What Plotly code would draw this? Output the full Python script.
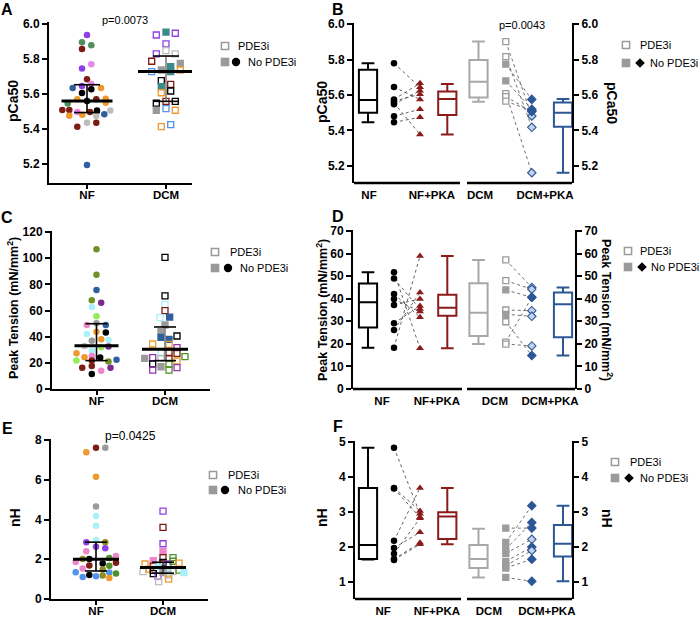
import plotly.graph_objects as go

W, H = 700, 619
FONT = "Liberation Sans, Arial, Helvetica, sans-serif"

# ======================= DATA =======================
GROUPS2 = ["NF", "DCM"]
GROUPS4 = ["NF", "NF+PKA", "DCM", "DCM+PKA"]

# ---- Panel A : pCa50 per heart (jitter read in px)
a_nf_val = [5.937, 5.895, 5.878, 5.857, 5.770, 5.745, 5.684, 5.657, 5.634, 5.646, 5.627,
            5.634, 5.606, 5.570, 5.560, 5.570, 5.573, 5.550, 5.545, 5.509, 5.509, 5.497,
            5.497, 5.505, 5.484, 5.505, 5.476, 5.482, 5.474, 5.436, 5.436, 5.413, 5.194]
a_nf_jit = [0, -5, 4.3, -5, 4.3, -5, 0, 4.3, -14.3, -5, 4.3, 14, -5, -9.7, 0, 9.3, 18.7, 18.7,
            -19.3, -24.7, -17.7, -9.7, 3, 10, 17.3, 23.3, -17.7, -4.7, 9.3, 0, 9.3, -9.7, 0]
a_nf_col = ["pur", "sgr", "sgr", "drd", "vio", "pur", "drd", "vio", "blu", "pur", "blk", "org",
            "blk", "org", "blk", "drd", "org", "org", "sgr", "drd", "drd", "vio", "drd", "blk",
            "blu", "lgr", "org", "org", "lgr", "lgr", "drd", "drd", "blu"]
a_dcm_val = [5.937, 5.954, 5.947, 5.886, 5.848, 5.829, 5.829, 5.787, 5.775, 5.728, 5.737, 5.756,
             5.728, 5.737, 5.676, 5.642, 5.655, 5.607, 5.617, 5.547, 5.558, 5.558, 5.507, 5.516,
             5.507, 5.413, 5.425]
a_dcm_jit = [-9.7, 0, 9.3, 0, 0, -9.7, 9.3, -14.3, 14.3, -14.3, -4.7, 4.7, 4.7, 14.3, -4.7, -4.7,
             4.7, -4.7, 4.7, -9.7, 0, 9.3, -9.7, 0, 9.3, -4.7, 4.7]
a_dcm_col = ["pur", "tea", "pur", "pur", "lgr", "pur", "lgr", "drd", "gry", "cbl", "gry", "tea",
             "tea", "org", "blk", "tea", "drd", "org", "blk", "blk", "drd", "blk", "gry", "cbl",
             "org", "org", "cbl"]
a_dcm_fill = [0, 1, 0, 0, 0, 0, 0, 0, 1, 0, 1, 1, 1, 0, 0, 1, 0, 0, 0, 0, 0, 0, 1, 0, 0, 0, 0]
a_stats = [(5.560, 5.494, 5.653), (5.728, 5.558, 5.817)]  # (centre, lower, upper)

# ---- Panel C : Peak tension per heart
c_nf_val = [106.8, 87.3, 75.7, 67.8, 66.0, 62.7, 55.6, 48.9, 50.2, 48.9, 43.8, 43.1, 42.0, 36.9,
            38.0, 37.4, 32.9, 29.3, 31.9, 32.5, 27.3, 24.2, 25.2, 24.0, 21.7, 21.7, 21.1, 22.4,
            16.3, 17.6, 14.0, 16.3, 11.5]
c_nf_jit = [0, 0, 0, -4.7, 4.7, -4.7, 0, -9.7, 0, 9.3, 0, 9.3, -9.7, -4.7, 4.7, 12, -12, -4.7,
            4.7, 12, -20, -12, -4.7, 3.7, -20, -4.7, 12, 20, -14.3, -4.7, 4.7, 14, -4.7]
c_nf_col = ["olv", "olv", "blu", "olv", "dpu", "lcy", "lgn", "pnk", "gry", "blu", "org", "blk",
            "lcy", "gry", "org", "lcy", "lgr", "lcy", "lgn", "dpu", "org", "org", "pnk", "blk",
            "lgn", "drd", "olv", "blu", "drd", "drd", "pnk", "dpu", "blk"]
c_dcm_val = [100.6, 71.1, 64.7, 59.9, 54.5, 55.0, 48.9, 43.8, 40.5, 39.5, 38.0, 34.4, 34.1, 31.6,
             27.3, 27.6, 27.3, 23.4, 24.0, 23.4, 23.4, 21.4, 24.7, 19.1, 17.0, 19.1, 16.3, 14.5,
             14.5]
c_dcm_jit = [0, 0, 0, 0, -5, 4.7, 0, -4, 12, -4, 4, -12.3, 4, 12, -4, 4, 12, -20.3, -12.3, -4, 4,
             12, 20, -12.3, -4, 4, 12, -12.3, 4]
c_dcm_col = ["blk", "blk", "lcy", "drd", "lcy", "blu", "gry", "gry", "blk", "blu", "blu", "org",
             "org", "mpu", "lcy", "drd", "drd", "gry", "mpu", "lgr", "drd", "org", "grn", "blk",
             "gry", "grn", "mpu", "mpu", "grn"]
c_dcm_fill = [0, 0, 0, 0, 0, 1, 1, 1, 0, 1, 1, 0, 0, 0, 0, 0, 0, 1, 0, 0, 0, 0, 0, 0, 1, 0, 0, 0, 0]
c_stats = [(33.1, 21.7, 49.9), (30.3, 21.7, 47.4)]

# ---- Panel E : nH per heart
e_nf_val = [7.38, 7.61, 7.61, 6.15, 4.65, 4.18, 3.69, 2.97, 2.85, 2.85, 2.63, 2.55, 2.40, 2.16,
            2.01, 2.01, 1.79, 2.06, 1.86, 1.69, 1.67, 1.83, 1.53, 1.49, 1.34, 1.21, 1.18, 1.28,
            1.11, 1.14, 1.33, 1.06]
e_nf_jit = [-9.7, 0, 9.3, 0, 0, 0, 0, 0, -9.7, 9.3, 0, 9.3, -9.7, 20, -13.3, -6.7, 6.7, 13.3,
            -20.3, -6.7, 13.3, 20, -13.3, 6.7, -20.3, -6.7, 6.7, 20, -13.3, 0, 13.3, 13.3]
e_nf_col = ["org", "drd", "gry", "org", "gry", "lcy", "lcy", "lcy", "pur", "gol", "pur", "pur",
            "pnk", "pnk", "gol", "blk", "blk", "grn", "pnk", "drd", "grn", "drd", "pnk", "gol",
            "cbl", "blk", "gol", "grn", "cbl", "cbl", "cbl", "org"]
e_dcm_val = [4.42, 3.60, 2.78, 2.38, 1.93, 2.08, 2.08, 1.76, 1.65, 1.84, 1.76, 1.90, 1.80, 1.38,
             1.50, 1.44, 1.60, 1.40, 1.38, 1.45, 1.33, 1.28, 1.15, 1.33, 1.22, 0.87, 1.00]
e_dcm_jit = [0, 0, 0, 0, -9.7, 0, 10, -18, -9.7, 0, 5, 10, 16, -20, -14, -9.7, -5, 5, 10, 16, 21,
             -9.7, -5, 0, 5, -4.3, 5.7]
e_dcm_col = ["pur", "drd", "pur", "pnk", "pnk", "drd", "grn", "org", "drd", "blk", "pur", "grn",
             "org", "lgr", "org", "blk", "lcy", "lcy", "lgr", "grn", "lcy", "blk", "pur", "gry",
             "lgr", "lgr", "org"]
e_dcm_fill = [0, 0, 0, 1, 1, 0, 0, 0, 0, 0, 0, 0, 0, 0, 0, 0, 1, 1, 0, 0, 1, 0, 0, 1, 0, 0, 0]
e_stats = [(2.00, 1.41, 2.86), (1.58, 1.30, 1.85)]

# ---- Panel B : pCa50 paired, +/- PKA
b_nf = [5.780, 5.645, 5.575, 5.565, 5.555, 5.548, 5.480, 5.445]
b_nf_pka = [5.643, 5.575, 5.666, 5.604, 5.377, 5.624, 5.519, 5.474]
b_dcm = [5.902, 5.817, 5.774, 5.680, 5.608, 5.590, 5.565]
b_dcm_pka = [5.481, 5.417, 5.575, 5.519, 5.160, 5.506, 5.510]
b_dcm_nopde = [0, 0, 1, 1, 0, 0, 0]
b_dcm_pka_filled = [0, 0, 1, 1, 0, 0, 1]
# box stats (lower whisker, q1, median, q3, upper whisker) for NF, NF+PKA, DCM, DCM+PKA
b_box = [(5.445, 5.500, 5.572, 5.742, 5.780), (5.377, 5.487, 5.577, 5.619, 5.662),
         (5.562, 5.585, 5.675, 5.798, 5.902), (5.160, 5.420, 5.500, 5.557, 5.577)]

# ---- Panel D : Peak tension paired
d_nf = [51.7, 48.9, 42.1, 39.9, 37.2, 29.1, 26.1, 18.3]
d_nf_pka = [18.0, 35.4, 31.8, 34.3, 39.9, 36.8, 42.7, 58.9]
d_dcm = [57.2, 48.0, 43.9, 35.0, 33.1, 29.8, 20.8, 19.9]
d_dcm_pka = [45.0, 44.2, 40.6, 34.7, 32.2, 14.8, 40.6, 19.1]
d_dcm_nopde = [0, 0, 1, 0, 1, 0, 0, 0]
d_dcm_pka_filled = [0, 0, 1, 0, 0, 1, 1, 0]
d_box = [(18.3, 27.2, 38.4, 46.7, 51.7), (18.0, 32.5, 36.0, 41.8, 58.9),
         (19.9, 23.5, 33.8, 46.8, 57.2), (14.8, 22.9, 37.5, 42.7, 45.0)]

# ---- Panel F : nH paired
f_nf = [4.84, 3.69, 3.67, 2.18, 1.97, 1.81, 1.66, 1.63]
f_nf_pka = [2.95, 3.03, 2.85, 3.69, 2.42, 2.82, 2.12, 2.08]
f_dcm = [2.54, 2.13, 1.94, 1.82, 1.59, 1.46, 1.40, 1.13]
f_dcm_pka = [2.54, 3.18, 2.70, 2.22, 2.00, 1.90, 1.65, 1.02]
f_dcm_nopde = [1, 1, 1, 1, 1, 1, 1, 1]
f_dcm_pka_filled = [1, 1, 1, 0, 1, 0, 1, 1]
f_box = [(1.64, 1.66, 2.06, 3.69, 4.84), (2.08, 2.23, 2.87, 2.99, 3.69),
         (1.13, 1.40, 1.66, 2.06, 2.52), (1.02, 1.73, 2.09, 2.63, 3.18)]

# ======================= STYLE =======================
PAL = {"pur": "#8f3fe6", "sgr": "#4e8f5e", "drd": "#7d1c12", "vio": "#ea84ee", "blu": "#2f5f9e",
       "blk": "#000000", "org": "#f0982e", "gry": "#9a9a9a", "lgr": "#bdbdbd", "tea": "#3a8a8c",
       "cbl": "#4f93ec", "olv": "#6e9226", "lcy": "#aaf0f8", "lgn": "#94ec5a", "pnk": "#ee86cc",
       "dpu": "#7d2a8e", "mpu": "#9636b4", "gol": "#8f8c22", "grn": "#4f9028"}
BOX_COL = ["#000000", "#8b1a1a", "#a8a8a8", "#2b5797"]
TRI_COL = "#8b1a1a"
SQ_COL = "#9c9c9c"
DIA_COL = "#2b5797"
DIA_OPEN_FILL = "#c3d1ea"

TICKFONT = dict(family=FONT, size=12, color="black", weight="bold")
CATFONT = dict(family=FONT, size=11.5, color="black", weight="bold")

fig = go.Figure()
lay = {}
shapes = []
annos = []


def axn(kind, n):
    return f"{kind}axis" if n == 1 else f"{kind}axis{n}"


def ref(kind, n):
    return kind if n == 1 else f"{kind}{n}"


def dom_x(l, r):
    return [l / W, r / W]


def dom_y(t, b):
    return [1 - b / H, 1 - t / H]


def yaxis_style(t, b, rng, tickvals, fmt, anchor):
    return dict(domain=dom_y(t, b), range=rng, tickvals=tickvals, tickformat=fmt,
                showline=True, linecolor="black", linewidth=2, ticks="outside",
                ticklen=5, tickwidth=2, tickcolor="black", tickfont=TICKFONT,
                showgrid=False, zeroline=False, anchor=anchor, fixedrange=True,
                automargin=False)


def text(xp, yp, s, size=11, angle=0, bold=False, xanchor="center"):
    annos.append(dict(x=xp / W, y=1 - yp / H, xref="paper", yref="paper", text=s,
                      showarrow=False, textangle=angle, xanchor=xanchor, yanchor="middle",
                      font=dict(family=FONT, size=size, color="black",
                                weight="bold" if bold else "normal")))


def scatter_panel(n, l, r, t, b, yrng, yticks, fmt, nf_px, dcm_px, nf, dcm, stats,
                  mean_half, cap_half, sd_cols):
    xr, yr = ref("x", n), ref("y", n)
    unit = dcm_px - nf_px
    lay[axn("x", n)] = dict(domain=dom_x(l, r), range=[(l - nf_px) / unit, (r - nf_px) / unit],
                            tickvals=[0, 1], ticktext=GROUPS2, showline=True, linecolor="black",
                            linewidth=2, ticks="outside", ticklen=4, tickwidth=1.5,
                            tickcolor="black", tickfont=CATFONT, showgrid=False,
                            zeroline=False, anchor=yr, fixedrange=True, automargin=False,
                            ticklabelstandoff=-4)
    lay[axn("y", n)] = yaxis_style(t, b, yrng, yticks, fmt, xr)
    v, j, c = nf
    fig.add_trace(go.Scatter(x=[0 + q / unit for q in j], y=v, mode="markers",
                             marker=dict(symbol="circle", size=6.5, color=[PAL[k] for k in c],
                                         line=dict(width=0)),
                             xaxis=xr, yaxis=yr, hoverinfo="skip", showlegend=False))
    v, j, c, f = dcm
    cols = [PAL[k] for k in c]
    fig.add_trace(go.Scatter(x=[1 + q / unit for q in j], y=v, mode="markers",
                             marker=dict(symbol=["square" if s else "square-open" for s in f],
                                         size=6, color=cols, line=dict(width=1.3, color=cols)),
                             xaxis=xr, yaxis=yr, hoverinfo="skip", showlegend=False))
    for gi, (m, lo, hi) in enumerate(stats):
        ch = cap_half / unit
        mh = mean_half[gi] / unit
        fig.add_trace(go.Scatter(x=[gi, gi], y=[lo, hi], mode="lines",
                                 line=dict(color=sd_cols[gi], width=1.6),
                                 xaxis=xr, yaxis=yr, hoverinfo="skip", showlegend=False))
        fig.add_trace(go.Scatter(x=[gi - ch, gi + ch, None, gi - ch, gi + ch],
                                 y=[lo, lo, None, hi, hi], mode="lines",
                                 line=dict(color="black", width=1.6),
                                 xaxis=xr, yaxis=yr, hoverinfo="skip", showlegend=False))
        fig.add_trace(go.Scatter(x=[gi - mh, gi + mh], y=[m, m], mode="lines",
                                 line=dict(color="black", width=3),
                                 xaxis=xr, yaxis=yr, hoverinfo="skip", showlegend=False))


# positions of the 8 columns of a paired panel (units of 26 px, 0 at px 368)
POS = [0, 1, 2, 3.05, 4.25, 5.3, 6.3, 7.5]
P0, PU = 368, 26.0


def paired_panel(n, l, r, t, b, brk, yrng, yticks, fmt, label_pos, nf, nfp, dcm, dcmp,
                 dcm_nopde, dcmp_filled, boxes):
    xr, yr, yr2 = ref("x", n), ref("y", n), ref("y", n + 1)
    lay[axn("x", n)] = dict(domain=dom_x(l, r), range=[(l - P0) / PU, (r - P0) / PU],
                            tickvals=label_pos, ticktext=GROUPS4, showline=False, ticks="",
                            tickfont=CATFONT, showgrid=False, zeroline=False, anchor=yr,
                            fixedrange=True, automargin=False, ticklabelstandoff=3)
    lay[axn("y", n)] = yaxis_style(t, b, yrng, yticks, fmt, xr)
    ry = yaxis_style(t, b, yrng, yticks, fmt, xr)
    ry.pop("domain")
    ry.update(overlaying=yr, side="right")
    lay[axn("y", n + 1)] = ry
    fig.add_trace(go.Scatter(x=[POS[0]], y=[yrng[0]], mode="markers", marker=dict(opacity=0),
                             xaxis=xr, yaxis=yr2, hoverinfo="skip", showlegend=False))
    # broken x axis
    for x0, x1 in [(l, brk[0]), (brk[1], r)]:
        shapes.append(dict(type="line", xref="paper", yref="paper", x0=x0 / W, x1=x1 / W,
                           y0=1 - b / H, y1=1 - b / H, line=dict(color="black", width=2.5)))
    # boxes
    for bi, pi in enumerate([0, 3, 4, 7]):
        lo, q1, md, q3, hi = boxes[bi]
        fig.add_trace(go.Box(x=[POS[pi]], q1=[q1], median=[md], q3=[q3], lowerfence=[lo],
                             upperfence=[hi], width=0.7, whiskerwidth=0.7, boxpoints=False,
                             line=dict(color=BOX_COL[bi], width=2), fillcolor="rgba(255,255,255,0)",
                             xaxis=xr, yaxis=yr, hoverinfo="skip", showlegend=False))
    # pairing lines
    lx, ly = [], []
    for a, c in zip(nf, nfp):
        lx += [POS[1], POS[2], None]
        ly += [a, c, None]
    fig.add_trace(go.Scatter(x=lx, y=ly, mode="lines", line=dict(color="#3a3a3a", width=0.8,
                             dash="dot"), xaxis=xr, yaxis=yr, hoverinfo="skip",
                             showlegend=False))
    lx, ly = [], []
    for a, c in zip(dcm, dcmp):
        lx += [POS[5], POS[6], None]
        ly += [a, c, None]
    fig.add_trace(go.Scatter(x=lx, y=ly, mode="lines", line=dict(color="#4a4a4a", width=0.8,
                             dash="dot"), xaxis=xr, yaxis=yr, hoverinfo="skip",
                             showlegend=False))
    # markers
    fig.add_trace(go.Scatter(x=[POS[1]] * len(nf), y=nf, mode="markers",
                             marker=dict(symbol="circle", size=6.5, color="black"),
                             xaxis=xr, yaxis=yr, hoverinfo="skip", showlegend=False))
    fig.add_trace(go.Scatter(x=[POS[2]] * len(nfp), y=nfp, mode="markers",
                             marker=dict(symbol="triangle-up", size=7, color=TRI_COL),
                             xaxis=xr, yaxis=yr, hoverinfo="skip", showlegend=False))
    fig.add_trace(go.Scatter(x=[POS[5]] * len(dcm), y=dcm, mode="markers",
                             marker=dict(symbol="square", size=6,
                                         color=[SQ_COL if s else "white" for s in dcm_nopde],
                                         line=dict(width=1.3, color=SQ_COL)),
                             xaxis=xr, yaxis=yr, hoverinfo="skip", showlegend=False))
    fig.add_trace(go.Scatter(x=[POS[6]] * len(dcmp), y=dcmp, mode="markers",
                             marker=dict(symbol="diamond", size=6.5,
                                         color=[DIA_COL if s else DIA_OPEN_FILL for s in dcmp_filled],
                                         line=dict(width=1.1, color=DIA_COL)),
                             xaxis=xr, yaxis=yr, hoverinfo="skip", showlegend=False))


def legend(sqx, y1, y2, second, m2x, t1x, t2x):
    s = 3.6
    shapes.append(dict(type="rect", xref="paper", yref="paper", x0=(sqx - s) / W, x1=(sqx + s) / W,
                       y0=1 - (y1 + s) / H, y1=1 - (y1 - s) / H, fillcolor="white",
                       line=dict(color="#9a9a9a", width=1.5)))
    shapes.append(dict(type="rect", xref="paper", yref="paper", x0=(sqx - s - 0.7) / W,
                       x1=(sqx + s + 0.7) / W, y0=1 - (y2 + s + 0.7) / H, y1=1 - (y2 - s - 0.7) / H,
                       fillcolor="#9a9a9a", line=dict(width=0)))
    if second == "circle":
        rr = 4.2
        shapes.append(dict(type="circle", xref="paper", yref="paper", x0=(m2x - rr) / W,
                           x1=(m2x + rr) / W, y0=1 - (y2 + rr) / H, y1=1 - (y2 - rr) / H,
                           fillcolor="black", line=dict(width=0)))
    else:
        d = 4.8
        pts = [(m2x, y2 - d), (m2x + d, y2), (m2x, y2 + d), (m2x - d, y2)]
        path = "M " + " L ".join(f"{px / W},{1 - py / H}" for px, py in pts) + " Z"
        shapes.append(dict(type="path", xref="paper", yref="paper", path=path,
                           fillcolor="black", line=dict(width=0)))
    text(t1x, y1, "PDE3i", size=11, xanchor="left")
    text(t2x, y2, "No PDE3i", size=11, xanchor="left")


# ======================= PANELS =======================
scatter_panel(1, 49, 192, 22, 183, [5.0914, 6.0114], [5.2, 5.4, 5.6, 5.8, 6.0], ".1f", 87, 166,
              (a_nf_val, a_nf_jit, a_nf_col), (a_dcm_val, a_dcm_jit, a_dcm_col, a_dcm_fill),
              a_stats, [25.5, 28], 13, ["black", "#808080"])
paired_panel(2, 354, 572, 23, 183, (460, 467), [5.102, 6.007], [5.2, 5.4, 5.6, 5.8, 6.0], ".1f",
             [0.04, 2.46, 4.31, 6.81], b_nf, b_nf_pka, b_dcm, b_dcm_pka, b_dcm_nopde,
             b_dcm_pka_filled, b_box)
scatter_panel(4, 52, 210, 231, 389, [0, 120.76], [0, 20, 40, 60, 80, 100, 120], "d", 96.5, 165,
              (c_nf_val, c_nf_jit, c_nf_col), (c_dcm_val, c_dcm_jit, c_dcm_col, c_dcm_fill),
              c_stats, [22, 23], 11, ["black", "#808080"])
paired_panel(5, 353, 575, 230, 389, (462, 467), [0, 70.44], [0, 10, 20, 30, 40, 50, 60, 70], "d",
             [0.54, 2.65, 4.88, 7.0], d_nf, d_nf_pka, d_dcm, d_dcm_pka, d_dcm_nopde,
             d_dcm_pka_filled, d_box)
scatter_panel(7, 51, 208, 439, 599, [0, 8.05], [0, 2, 4, 6, 8], "d", 96, 163,
              (e_nf_val, e_nf_jit, e_nf_col), (e_dcm_val, e_dcm_jit, e_dcm_col, e_dcm_fill),
              e_stats, [23, 23], 11, ["black", "#404040"])
paired_panel(8, 355, 572, 441, 599, (461, 467), [0.514, 5.03], [1, 2, 3, 4, 5], "d",
             [0.58, 2.65, 4.65, 6.88], f_nf, f_nf_pka, f_dcm, f_dcm_pka, f_dcm_nopde,
             f_dcm_pka_filled, f_box)

# axis titles
text(13, 101, "pCa50", size=14, angle=-90, bold=True)
text(322, 102, "pCa50", size=14, angle=-90, bold=True)
text(612, 103, "pCa50", size=14, angle=90, bold=True)
text(13, 308, "Peak Tension (mN/mm<sup>2</sup>)", size=12.5, angle=-90, bold=True)
text(322, 310, "Peak Tension (mN/mm<sup>2</sup>)", size=12.5, angle=-90, bold=True)
text(607, 310, "Peak Tension (mN/mm<sup>2</sup>)", size=12.5, angle=90, bold=True)
text(15, 518, "nH", size=14, angle=-90, bold=True)
text(322, 518, "nH", size=14, angle=-90, bold=True)
text(607, 518, "nH", size=14, angle=90, bold=True)

# p values
text(125, 20, "p=0.0073", size=11)
text(522, 25, "p=0.0043", size=11)
text(130, 436, "p=0.0425", size=12)

# panel letters
for lx, ly, s in [(7, 9, "A"), (338, 10, "B"), (7, 217, "C"), (338, 216, "D"),
                  (7, 428, "E"), (338, 427, "F")]:
    text(lx, ly, s, size=16, bold=True)

# legends
legend(225, 46, 62, "circle", 236, 236, 246)
legend(626, 45, 63, "diamond", 640, 638, 648)
legend(215, 252, 268, "circle", 228, 228, 238)
legend(628, 251, 267, "diamond", 642, 638, 649)
legend(213, 475, 490, "circle", 225, 226, 236)
legend(615, 462, 478, "diamond", 629, 628, 638)

fig.update_layout(width=W, height=H, margin=dict(l=0, r=0, t=0, b=0, autoexpand=False),
                  paper_bgcolor="white", plot_bgcolor="white", showlegend=False,
                  boxmode="overlay", shapes=shapes, annotations=annos, **lay)
fig.write_html("out.html", config={"displayModeBar": False},
               post_script="document.body.style.margin='0px';document.body.style.overflow='hidden';")
